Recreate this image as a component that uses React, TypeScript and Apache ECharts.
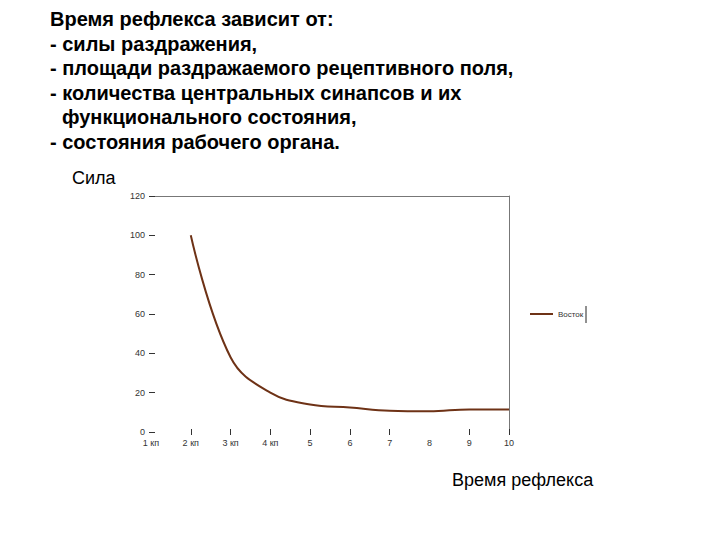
import { useEffect, useRef } from 'react';
import * as echarts from 'echarts';

const headingLines = [
  'Время рефлекса зависит от:',
  '- силы раздражения,',
  '- площади раздражаемого рецептивного поля,',
  '- количества центральных синапсов и их',
  '  функционального состояния,',
  '- состояния рабочего органа.',
];

const categories = ['1 кп', '2 кп', '3 кп', '4 кп', '5', '6', '7', '8', '9', '10'];
const seriesName = 'Восток';
const values = [null, 100, 38, 20, 14, 12.5, 10.8, 10.5, 11.5, 11.5];
const yTicks = { min: 0, max: 120, interval: 20 };

const App = () => {
  const chartRef = useRef<HTMLDivElement>(null);

  useEffect(() => {
    if (!chartRef.current) return;
    const chart = echarts.init(chartRef.current, null, { renderer: 'svg' });

    // heading block, one text per line
    const heading = headingLines.map((line, i) => ({
      type: 'text',
      left: line.startsWith('  ') ? 62 : 50,
      top: 9 + i * 24.5,
      style: {
        text: line.trim(),
        font: 'bold 20px "Liberation Sans", Arial, sans-serif',
        fill: '#000',
      },
    }));

    const option = {
      animation: false,
      backgroundColor: '#fff',
      textStyle: { fontFamily: '"Liberation Sans", Arial, sans-serif' },
      grid: { left: 151, right: 211, top: 196, bottom: 108 },
      legend: {
        left: 530,
        top: 310,
        padding: 0,
        icon: 'rect',
        itemWidth: 23,
        itemHeight: 2,
        textStyle: { fontSize: 8, color: '#333' },
        data: [seriesName],
      },
      xAxis: [
        {
          type: 'category',
          data: categories,
          boundaryGap: false,
          offset: -3,
          axisLine: { show: false },
          axisTick: {
            show: true,
            length: 6,
            interval: (index: number) => index !== 0 && index !== 7,
            lineStyle: { color: '#333' },
          },
          axisLabel: { fontSize: 9, color: '#333', margin: 9, interval: 0 },
        },
        {
          type: 'category',
          data: categories,
          boundaryGap: false,
          position: 'top',
          axisLine: { show: true, onZero: false, lineStyle: { color: '#777', width: 1 } },
          axisTick: { show: false },
          axisLabel: { show: false },
        },
      ],
      yAxis: [
        {
          type: 'value',
          ...yTicks,
          offset: -4,
          axisLine: { show: false },
          axisTick: { show: true, length: 6, lineStyle: { color: '#333' } },
          axisLabel: { fontSize: 9, color: '#333', margin: 10 },
          splitLine: { show: false },
        },
        {
          type: 'value',
          ...yTicks,
          position: 'right',
          axisLine: { show: true, onZero: false, lineStyle: { color: '#777', width: 1 } },
          axisTick: { show: false },
          axisLabel: { show: false },
          splitLine: { show: false },
        },
      ],
      graphic: [
        ...heading,
        {
          type: 'text',
          left: 72,
          top: 169,
          style: { text: 'Сила', font: '18px "Liberation Sans", Arial, sans-serif', fill: '#000' },
        },
        {
          type: 'text',
          left: 452,
          top: 471,
          style: { text: 'Время рефлекса', font: '18px "Liberation Sans", Arial, sans-serif', fill: '#000' },
        },
        {
          type: 'line',
          shape: { x1: 586, y1: 306, x2: 586, y2: 323 },
          style: { stroke: '#222', lineWidth: 1 },
        },
      ],
      series: [
        {
          name: seriesName,
          type: 'line',
          data: values,
          smooth: 0.4,
          symbol: 'none',
          lineStyle: { color: '#6e3216', width: 2 },
          itemStyle: { color: '#6e3216' },
        },
      ],
    };

    chart.setOption(option);
    return () => chart.dispose();
  }, []);

  return (
    <div
      ref={chartRef}
      style={{ position: 'absolute', left: 0, top: 0, width: 720, height: 540 }}
    />
  );
};

export default App;
